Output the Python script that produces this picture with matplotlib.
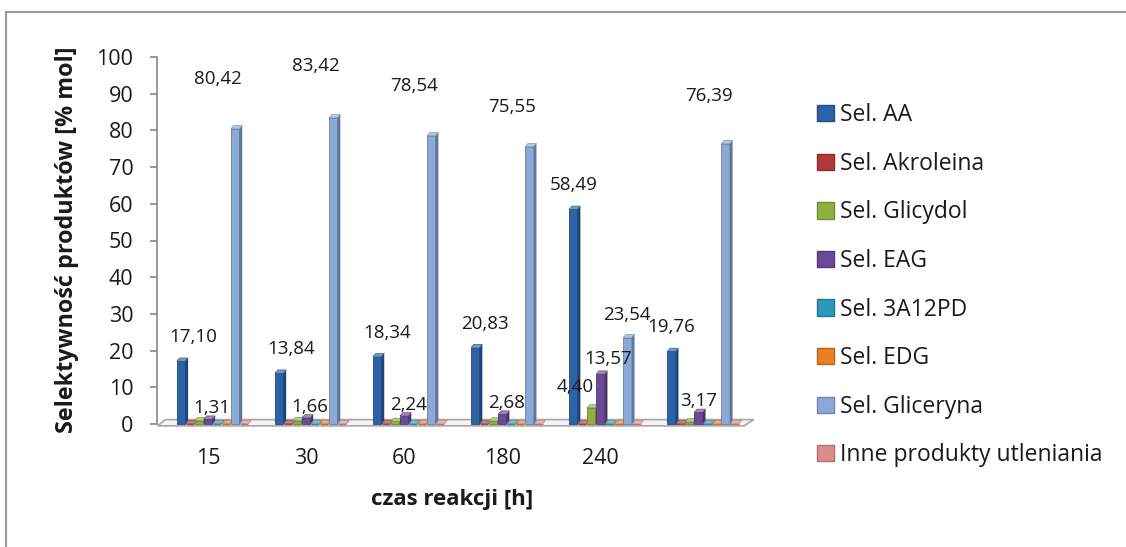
import matplotlib
matplotlib.use("Agg")
import matplotlib.pyplot as plt
import numpy as np
from matplotlib.patches import Polygon, Rectangle
from matplotlib.colors import to_rgb

plt.rcParams['font.family'] = ['Open Sans', 'DejaVu Sans']

# reaction time groups (last group has no label on the axis)
times = ["15", "30", "60", "180", "240", ""]

series_names = ["Sel. AA", "Sel. Akroleina", "Sel. Glicydol", "Sel. EAG",
                "Sel. 3A12PD", "Sel. EDG", "Sel. Gliceryna", "Inne produkty utleniania"]

sel_aa = [17.10, 13.84, 18.34, 20.83, 58.49, 19.76]
sel_akroleina = [0.10, 0.08, 0.10, 0.07, 0.00, 0.08]
sel_glicydol = [0.90, 0.95, 0.70, 0.80, 4.40, 0.55]
sel_eag = [1.31, 1.66, 2.24, 2.68, 13.57, 3.17]
sel_3a12pd = [0.05, 0.03, 0.04, 0.03, 0.00, 0.02]
sel_edg = [0.05, 0.03, 0.04, 0.03, 0.00, 0.02]
sel_gliceryna = [80.42, 83.42, 78.54, 75.55, 23.54, 76.39]
sel_inne = [0.07, 0.04, 0.04, 0.04, 0.00, 0.03]

all_series = [sel_aa, sel_akroleina, sel_glicydol, sel_eag,
              sel_3a12pd, sel_edg, sel_gliceryna, sel_inne]
colors = ["#2c62a8", "#b0393a", "#8db040", "#6a4a94",
          "#2b9ab8", "#ea7f24", "#8aa8d8", "#dc8c8c"]

W, H = 1126, 547
PT = 0.72  # points per pixel at 100 dpi
fig = plt.figure(figsize=(W / 100, H / 100), dpi=100)
ax = fig.add_axes([157 / W, 123 / H, (748 - 157) / W, 367 / H])

n = len(all_series)
slot = 0.092
bw = 0.086
dx, dy = 0.03, 0.9   # depth of the 3d effect in data units
x = np.arange(len(times))


def shade(c, f):
    r, g, b = to_rgb(c)
    if f < 1:
        return (r * f, g * f, b * f)
    return (r + (1 - r) * (f - 1), g + (1 - g) * (f - 1), b + (1 - b) * (f - 1))


# floor of the 3d plot
floor = Polygon([(-0.56, -0.5), (5.42, -0.5), (5.52, 1.2), (-0.48, 1.2)],
                closed=True, facecolor="#f4f4f4", edgecolor="#a6a6a6",
                lw=1.2, clip_on=False, zorder=1)
ax.add_patch(floor)

for j, (vals, col) in enumerate(zip(all_series, colors)):
    xs = x + (j - (n - 1) / 2) * slot
    ax.bar(xs, vals, width=bw, color=col, edgecolor=shade(col, 0.75),
           linewidth=0.6, zorder=3, clip_on=False)
    for xc, h in zip(xs, vals):
        x0, x1 = xc - bw / 2, xc + bw / 2
        ax.add_patch(Polygon([(x1, 0), (x1 + dx, dy), (x1 + dx, h + dy), (x1, h)],
                             closed=True, facecolor=shade(col, 0.7),
                             edgecolor="none", zorder=3, clip_on=False))
        ax.add_patch(Polygon([(x0, h), (x0 + dx, h + dy), (x1 + dx, h + dy), (x1, h)],
                             closed=True, facecolor=shade(col, 1.35),
                             edgecolor=shade(col, 0.8), lw=0.4, zorder=3,
                             clip_on=False))

# value label placement in pixels (sideways nudge, height above the bar)
label_dx = {0: [12, 12, 10, 10, 0, 0],
            2: [0, 0, 0, 0, -16, 0],
            3: [4, 4, 4, 4, 8, 0],
            6: [-17, -17, -17, -17, 0, -17]}
label_dy = {0: [24] * 6,
            2: [21] * 6,
            3: [11, 11, 11, 11, 15, 11],
            6: [50, 52, 50, 40, 23, 48]}
for j, vals in enumerate(all_series):
    if j not in label_dx:
        continue
    xs = x + (j - (n - 1) / 2) * slot
    for i, (xc, v) in enumerate(zip(xs, vals)):
        if j == 2 and v < 2:
            continue
        ax.annotate(f"{v:.2f}".replace(".", ","), (xc, v),
                    xytext=(label_dx[j][i] * PT, label_dy[j][i] * PT),
                    textcoords="offset points", ha="center", va="center",
                    fontsize=13.5, color="#1a1a1a", zorder=5)

ax.set_xlim(-0.566, 5.46)
ax.set_ylim(0, 100)
ax.set_yticks(np.arange(0, 101, 10))
ax.set_xticks(x - 0.045)
ax.set_xticklabels(times)
ax.tick_params(axis="x", length=0, pad=17, labelsize=15.5, labelcolor="#1a1a1a")
ax.tick_params(axis="y", length=5, width=1.2, color="#868686", pad=12,
               labelsize=15.5, labelcolor="#1a1a1a")
for s in ["top", "right", "bottom"]:
    ax.spines[s].set_visible(False)
ax.spines["left"].set_color("#868686")
ax.spines["left"].set_linewidth(1.2)

fig.text(67 / W, 1 - 240 / H, "Selektywność produktów [% mol]", rotation=90,
         ha="center", va="center", fontsize=16.8, fontweight="bold", color="#1a1a1a")
fig.text(452 / W, 1 - 499 / H, "czas reakcji [h]", ha="center", va="center",
         fontsize=16, fontweight="bold", color="#1a1a1a")

handles = [Rectangle((0, 0), 1, 1, facecolor=c, edgecolor=shade(c, 0.8)) for c in colors]
fig.legend(handles, series_names, loc="upper left", bbox_to_anchor=(806 / W, 1 - 92 / H),
           frameon=False, fontsize=16.5, handlelength=0.7, handleheight=0.7,
           handletextpad=0.3, labelspacing=1.07, borderpad=0, labelcolor="#1a1a1a")

# chart area border
fig.patches.append(Rectangle((6 / W, -0.05), 1.2, 1 - 12 / H + 0.05,
                             transform=fig.transFigure, fill=False,
                             edgecolor="#999999", lw=1.5))

fig.savefig("out.png", dpi=100)
